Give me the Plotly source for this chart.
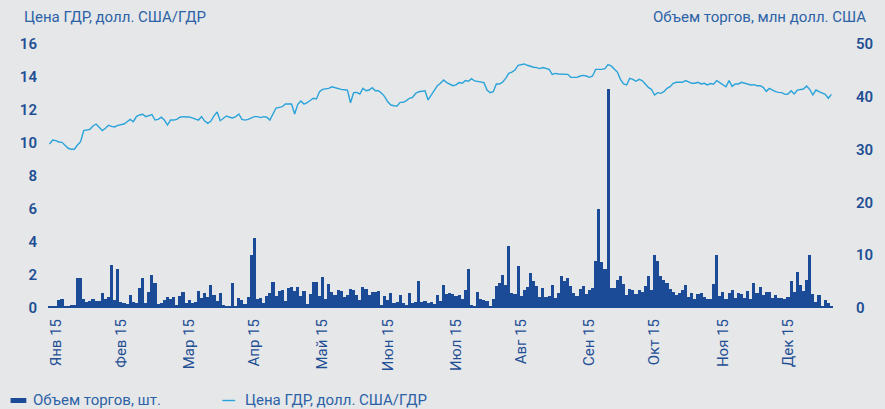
import plotly.graph_objects as go

# Month tick labels and the trading-day index each one sits on
month_labels = ["Янв 15", "Фев 15", "Мар 15", "Апр 15", "Май 15", "Июн 15",
                "Июл 15", "Авг 15", "Сен 15", "Окт 15", "Ноя 15", "Дек 15"]
month_ticks = [2, 23, 45, 66, 88, 109, 131, 152, 174, 195, 217, 238]

# Daily trading volume, mln USD (right axis)
volume_musd = [
    0.4, 0.4, 0.4, 1.5, 1.7, 0.4, 0.4, 0.6, 0.6, 5.7,
    5.7, 1.7, 1.1, 1.3, 1.7, 1.3, 1.3, 2.8, 1.7, 2.1,
    8.1, 1.5, 7.4, 1.1, 0.9, 0.8, 2.5, 1.1, 0.9, 3.8,
    5.7, 0.9, 3.0, 6.3, 4.7, 0.8, 0.9, 1.5, 2.1, 1.7,
    2.1, 0.6, 2.3, 3.0, 0.9, 1.5, 0.9, 1.1, 3.2, 1.9,
    2.8, 2.1, 4.4, 2.5, 1.3, 2.8, 0.6, 0.4, 0.4, 4.7, 0.2,
    1.9, 1.5, 0.8, 2.1, 10.0, 13.3, 1.7, 1.9, 0.9, 2.3,
    2.8, 4.9, 2.3, 3.2, 3.4, 1.3, 3.8, 4.0, 3.2, 4.0,
    2.3, 3.2, 0.8, 2.7, 4.9, 4.9, 2.3, 5.9, 1.7, 4.5,
    3.0, 2.5, 3.4, 3.2, 2.1, 2.5, 3.6, 3.4, 2.5, 1.5,
    4.0, 3.6, 2.5, 3.0, 3.0, 3.2, 0.6, 2.3, 1.5, 2.8,
    0.9, 1.1, 2.5, 0.9, 0.6, 2.8, 0.9, 1.1, 5.1, 1.1,
    1.3, 0.9, 1.1, 0.8, 2.5,
    1.3, 4.4, 2.7, 2.8, 2.7, 2.3, 2.5, 1.7, 3.4, 7.4,
    0.6, 0.4, 3.0, 1.7, 1.5, 1.3, 0.4, 1.7, 4.2, 4.7,
    6.3, 4.4, 11.7, 2.8, 2.7, 8.0, 2.3, 3.4, 4.0, 6.6,
    5.1, 4.2, 2.1, 3.8, 2.1, 2.3, 4.4, 1.9, 2.8, 6.1,
    5.1, 5.7, 4.2, 2.8, 2.3, 3.6, 4.2, 2.7, 3.4, 3.8,
    8.9, 18.8, 8.7, 7.4, 41.5, 3.8, 3.8, 5.3, 6.1, 4.5,
    2.5, 3.6, 3.4, 2.7,
    3.4, 3.0, 4.2, 6.1, 3.4, 10.0, 8.9, 6.1, 5.3, 4.7,
    3.6, 3.0, 2.5, 2.8, 3.4, 4.4, 2.1, 2.8, 1.7, 2.7,
    2.8, 2.1, 1.7, 1.7, 4.5, 10.0, 2.3, 3.0, 1.7, 2.8,
    3.4, 1.9, 2.8, 2.7, 1.9, 3.2, 1.7, 4.7, 2.8, 4.0,
    2.5, 3.0, 3.0, 1.9, 2.5, 1.9, 1.9, 1.7, 2.1, 5.1,
    3.0, 6.8, 4.4, 3.2, 5.3, 10.0, 2.7, 1.1, 2.5, 0.4,
    1.5, 0.9, 0.2,
]

# GDR closing price, USD per GDR (left axis)
gdr_price = [
    9.94, 10.18, 10.14, 10.06, 10.04, 9.88, 9.68, 9.62, 9.62, 9.88,
    10.08, 10.75, 10.79, 10.83, 11.03, 11.15, 10.95, 10.75, 10.89, 11.07,
    11.01, 10.97, 11.07, 11.09, 11.15, 11.29, 11.43, 11.29, 11.60, 11.70,
    11.74, 11.60, 11.64, 11.72, 11.39, 11.43, 11.56, 11.39, 11.09, 11.39,
    11.39, 11.43, 11.56, 11.60, 11.58, 11.58, 11.52, 11.47, 11.39, 11.60,
    11.33, 11.19, 11.33, 11.64, 11.88, 11.35, 11.50, 11.64, 11.56, 11.52,
    11.60, 11.76, 11.43, 11.39, 11.43, 11.50, 11.60, 11.60, 11.54, 11.60,
    11.56, 11.39, 11.80, 12.12, 12.16, 12.20, 12.36, 12.34, 12.36, 11.76,
    12.34, 12.55, 12.36, 12.44, 12.55, 12.71, 12.67, 13.11, 13.25,
    13.28, 13.31, 13.41, 13.35, 13.29, 13.25, 13.23, 13.21, 12.44, 13.05,
    13.07, 12.97, 13.31, 13.17, 13.21, 13.35, 13.17, 13.17, 13.01, 12.81,
    12.50, 12.30, 12.26, 12.24, 12.46, 12.46, 12.57, 12.71, 12.77, 13.01,
    13.11, 13.15, 13.17, 12.61, 12.91, 13.21, 13.47, 13.62, 13.82, 13.66,
    13.56, 13.47, 13.52, 13.66, 13.62, 13.78, 13.74, 13.90, 13.76, 13.72,
    13.68, 13.66, 13.21, 13.05, 13.11, 13.58, 13.58, 13.68, 13.92, 14.22,
    14.30, 14.42, 14.71, 14.77, 14.79, 14.71, 14.63, 14.59, 14.57, 14.51,
    14.57, 14.51, 14.46, 14.16, 14.22, 14.18, 14.18, 14.14, 14.16, 13.98,
    13.96, 13.98, 14.06, 14.10, 14.06, 13.98, 14.06, 14.46, 14.46, 14.46,
    14.51, 14.75,
    14.67, 14.51, 14.30, 13.86, 13.58, 13.52, 13.92, 13.86, 13.74, 13.86,
    13.78, 13.58, 13.37, 13.25, 12.91, 13.05, 13.01, 13.11, 13.31, 13.41,
    13.62, 13.68, 13.66, 13.68, 13.78, 13.70, 13.62, 13.62, 13.68, 13.58,
    13.62, 13.52, 13.60, 13.56, 13.78, 13.66, 13.54, 13.41, 13.78, 13.43,
    13.58, 13.58, 13.68, 13.62, 13.56, 13.52, 13.54, 13.47, 13.47, 13.37,
    13.13, 13.31, 13.21, 13.11, 13.07, 13.05, 12.95, 12.97, 13.17, 12.97,
    13.21, 13.25, 13.27, 13.45, 13.25, 12.91, 13.21, 13.11, 13.01, 12.95,
    12.71, 12.95,
]

price_ticks = [0, 2, 4, 6, 8, 10, 12, 14, 16]
volume_ticks = [0, 10, 20, 30, 40, 50]

day_index = list(range(len(volume_musd)))

BG = "#E6E7E9"
BAR = "#1B4A96"
LINE = "#2AA3DA"
TEXT = "#2C62A6"
TICK = "#1E4F94"
FONT = "Roboto"

W, H = 885, 409
ML, MR, MT, MB = 48, 40, 44, 101
PW, PH = W - ML - MR, H - MT - MB


def px_x(x):
    return (x - ML) / PW


def px_y(y):
    return (H - MB - y) / PH


fig = go.Figure()
fig.add_bar(x=day_index, y=volume_musd, yaxis="y",
            marker=dict(color=BAR, line=dict(width=0)),
            name="Объем торгов, шт.", showlegend=False)
fig.add_scatter(x=day_index, y=gdr_price, yaxis="y2", mode="lines",
                line=dict(color=LINE, width=1.4),
                name="Цена ГДР, долл. США/ГДР", showlegend=False)

fig.update_layout(
    width=W, height=H,
    margin=dict(l=ML, r=MR, t=MT, b=MB, pad=0),
    paper_bgcolor=BG, plot_bgcolor=BG,
    bargap=0,
    font=dict(family=FONT, size=15, color=TEXT),
    xaxis=dict(range=[-0.5, len(day_index) - 0.5], tickmode="array",
               tickvals=month_ticks, ticktext=month_labels, tickangle=-90,
               showgrid=False, zeroline=False, showline=False, ticks="",
               ticklabelstandoff=7,
               tickfont=dict(family=FONT, size=15, color=TICK)),
    yaxis=dict(range=[0, 50], tickvals=volume_ticks, side="right",
               showgrid=False, zeroline=False, showline=False, ticks="",
               ticklabelstandoff=22,
               tickfont=dict(family=FONT, size=15, color=TICK, weight=600)),
    yaxis2=dict(range=[0, 16], tickvals=price_ticks, side="left",
                overlaying="y", showgrid=False, zeroline=False,
                showline=False, ticks="", ticklabelstandoff=10,
                tickfont=dict(family=FONT, size=15, color=TICK, weight=600)),
)

# Axis titles
fig.add_annotation(x=px_x(22), y=px_y(17), xref="paper", yref="paper",
                   text="Цена ГДР, долл. США/ГДР", showarrow=False,
                   xanchor="left", yanchor="middle",
                   font=dict(family=FONT, size=15, color=TEXT))
fig.add_annotation(x=px_x(881), y=px_y(17), xref="paper", yref="paper",
                   text="Объем торгов, млн долл. США", showarrow=False,
                   xanchor="right", yanchor="middle",
                   font=dict(family=FONT, size=15, color=TEXT))

# Legend row along the bottom
fig.add_shape(type="rect", xref="paper", yref="paper",
              x0=px_x(10), x1=px_x(26), y0=px_y(403), y1=px_y(398),
              fillcolor=BAR, line=dict(width=0))
fig.add_annotation(x=px_x(31), y=px_y(400), xref="paper", yref="paper",
                   text="Объем торгов, шт.", showarrow=False,
                   xanchor="left", yanchor="middle",
                   font=dict(family=FONT, size=15, color=TEXT))
fig.add_shape(type="line", xref="paper", yref="paper",
              x0=px_x(225), x1=px_x(238), y0=px_y(400.5), y1=px_y(400.5),
              line=dict(color=LINE, width=1.4))
fig.add_annotation(x=px_x(246), y=px_y(400), xref="paper", yref="paper",
                   text="Цена ГДР, долл. США/ГДР", showarrow=False,
                   xanchor="left", yanchor="middle",
                   font=dict(family=FONT, size=15, color=TEXT))

fig.write_html("out.html")
